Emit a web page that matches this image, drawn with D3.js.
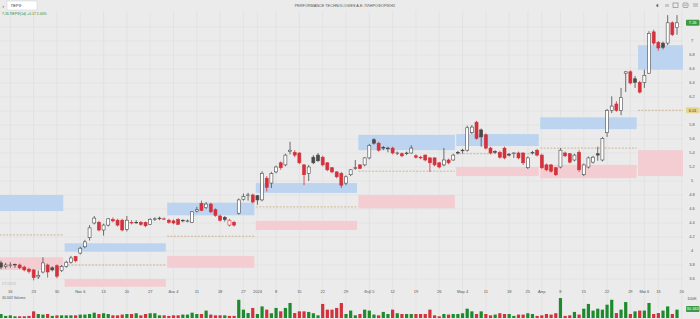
<!DOCTYPE html>
<html lang="el">
<head>
<meta charset="utf-8">
<title>ΠΕΡΦ</title>
<script src="https://d3js.org/d3.v7.min.js"></script>
<style>
  body { margin: 0; background: #ebebeb; overflow: hidden; }
  svg { display: block; font-family: "Liberation Sans", "DejaVu Sans", sans-serif; }
</style>
</head>
<body>
<div id="chart"></div>
<script>
// daily candles, Oct 2023 - May 2024
var opens = [3.83,3.78,3.80,3.81,3.80,3.77,3.74,3.73,3.63,3.70,3.80,3.76,3.79,3.72,3.78,3.84,3.92,3.97,4.06,4.19,
  4.40,4.41,4.30,4.37,4.45,4.44,4.44,4.31,4.40,4.41,4.41,4.41,4.38,4.45,4.46,4.46,4.44,4.43,4.45,4.44,
  4.43,4.41,4.57,4.68,4.62,4.67,4.59,4.50,4.48,4.37,4.41,4.54,4.74,4.80,4.80,4.79,4.73,5.04,4.97,5.13,
  5.26,5.23,5.42,5.41,5.40,5.23,5.11,5.34,5.37,5.34,5.26,5.19,5.13,5.11,4.97,5.09,5.19,5.23,5.23,5.33,
  5.59,5.54,5.48,5.47,5.47,5.40,5.39,5.39,5.40,5.36,5.34,5.37,5.33,5.33,5.26,5.23,5.30,5.30,5.41,5.44,
  5.44,5.69,5.84,5.73,5.66,5.47,5.42,5.41,5.47,5.38,5.40,5.40,5.40,5.19,5.40,5.44,5.37,5.23,5.23,5.19,
  5.20,5.40,5.39,5.30,5.41,5.09,5.20,5.27,5.39,5.30,5.69,6.01,6.10,6.01,6.54,6.56,6.46,6.41,6.41,6.54,
  7.13,6.98,6.97,6.97,7.26,7.19];
var highs = [3.86,3.83,3.84,3.82,3.82,3.79,3.76,3.74,3.72,3.91,3.82,3.78,3.81,3.80,3.86,3.93,3.93,4.06,4.16,4.37,
  4.50,4.43,4.39,4.47,4.48,4.46,4.46,4.50,4.44,4.44,4.43,4.42,4.47,4.48,4.49,4.48,4.46,4.45,4.47,4.45,
  4.45,4.57,4.63,4.72,4.70,4.69,4.61,4.52,4.50,4.46,4.43,4.75,4.82,4.83,4.82,4.80,5.14,5.07,5.13,5.22,
  5.28,5.39,5.56,5.44,5.41,5.24,5.23,5.37,5.40,5.36,5.27,5.20,5.14,5.13,5.08,5.17,5.30,5.24,5.34,5.53,
  5.61,5.56,5.50,5.49,5.49,5.42,5.41,5.42,5.51,5.38,5.36,5.38,5.34,5.34,5.27,5.47,5.32,5.39,5.43,5.46,
  5.79,5.80,5.86,5.75,5.68,5.49,5.44,5.43,5.49,5.40,5.41,5.42,5.41,5.35,5.43,5.46,5.39,5.25,5.24,5.20,
  5.47,5.42,5.40,5.39,5.44,5.25,5.35,5.36,5.49,5.63,6.03,6.21,6.14,6.33,6.57,6.58,6.50,6.43,6.59,7.14,
  7.16,7.00,6.99,7.37,7.28,7.37];
var lows = [3.74,3.75,3.76,3.76,3.74,3.71,3.68,3.58,3.60,3.68,3.62,3.71,3.61,3.70,3.76,3.82,3.84,3.95,4.04,4.15,
  4.38,4.28,4.22,4.35,4.41,4.35,4.28,4.28,4.38,4.39,4.36,4.34,4.37,4.43,4.44,4.44,4.39,4.38,4.38,4.41,
  4.41,4.40,4.55,4.57,4.60,4.54,4.49,4.42,4.42,4.35,4.35,4.52,4.72,4.72,4.68,4.66,4.71,4.85,4.90,5.11,
  5.16,5.21,5.38,5.34,5.24,4.94,5.00,5.24,5.27,5.21,5.14,5.11,5.04,4.90,4.94,5.07,5.16,5.17,5.21,5.31,
  5.52,5.42,5.44,5.41,5.38,5.37,5.34,5.37,5.39,5.32,5.31,5.28,5.13,5.21,5.18,5.21,5.24,5.29,5.38,5.39,
  5.42,5.67,5.59,5.49,5.45,5.38,5.39,5.32,5.31,5.35,5.33,5.31,5.23,5.17,5.38,5.35,5.17,5.14,5.12,5.07,
  5.18,5.34,5.25,5.28,5.13,5.07,5.18,5.25,5.29,5.28,5.63,5.97,5.99,5.94,6.27,6.38,6.33,6.25,6.33,6.53,
  6.94,6.86,6.88,6.94,7.07,7.09];
var closes = [3.77,3.80,3.80,3.80,3.76,3.73,3.71,3.62,3.65,3.83,3.70,3.73,3.64,3.78,3.84,3.90,3.86,4.04,4.13,4.33,
  4.47,4.30,4.37,4.46,4.43,4.37,4.30,4.44,4.41,4.41,4.38,4.36,4.45,4.46,4.47,4.46,4.41,4.40,4.38,4.43,
  4.43,4.56,4.59,4.58,4.67,4.56,4.51,4.44,4.45,4.44,4.37,4.73,4.78,4.80,4.70,4.73,5.11,4.91,5.11,5.20,
  5.19,5.37,5.44,5.37,5.26,5.09,5.20,5.26,5.29,5.23,5.16,5.13,5.06,4.94,5.06,5.16,5.19,5.18,5.33,5.51,
  5.54,5.44,5.47,5.47,5.40,5.40,5.36,5.40,5.47,5.34,5.33,5.30,5.26,5.23,5.20,5.30,5.26,5.37,5.40,5.44,
  5.76,5.77,5.61,5.63,5.47,5.40,5.41,5.34,5.33,5.37,5.40,5.33,5.26,5.33,5.41,5.37,5.19,5.16,5.14,5.09,
  5.44,5.36,5.27,5.37,5.16,5.23,5.33,5.34,5.37,5.61,6.01,6.07,6.01,6.19,6.56,6.40,6.41,6.27,6.51,7.11,
  6.97,6.90,6.91,7.26,7.09,7.26];
// volume in thousands of shares
var volumes = [21,11,14,9,9,9,11,35,21,18,21,11,14,14,14,14,14,18,18,21,
  28,21,25,21,14,14,18,21,21,25,14,21,25,25,14,14,11,14,14,18,
  18,28,21,21,39,18,14,14,14,11,11,96,44,26,53,21,61,44,25,53,
  35,53,79,26,35,35,32,25,14,74,44,44,53,79,21,39,14,21,44,39,
  18,14,32,21,44,25,21,21,21,21,21,21,44,14,9,21,18,21,21,25,
  49,35,21,35,21,14,18,25,21,21,11,18,18,25,21,11,14,21,18,25,
  105,11,14,32,18,49,74,39,49,44,70,96,26,44,84,21,35,39,39,79,
  21,26,39,61,21,44];

// x axis labels (candle index, text)
var tickIdx = [2,7,12,17,22,27,32,37,42,47,52,55,59,64,69,74,79,84,89,94,99,104,109,113,116,120,125,130,135,138,141,146];
var tickText = ["16","23","30","Νοε 6","13","20","27","Δεκ 4","11","18","27","2024","8","15","22","29",
  "Φεβ 5","12","19","26","Μαρ 4","11","18","25","Απρ","8","15","22","29","Μαϊ 6","13","20"];

// monthly pivot zones
var zoneStart = [0,14,36,55,77,98,116,137];
var zoneEnd   = [13,35,54,76,97,115,136,145];
var r2 = [4.80,4.11,4.69,4.97,5.66,5.67,5.91,6.94];
var r1 = [4.57,3.99,4.51,4.83,5.44,5.50,5.74,6.59];
var pivot = [4.23,3.80,4.21,4.63,5.14,5.39,5.47,6.01];
var s1 = [3.91,3.60,3.93,4.43,4.80,5.20,5.23,5.44];
var s2 = [3.73,3.49,3.76,4.30,4.61,5.07,5.04,5.07];

var width = 700, height = 319;
var plotRight = 683;

var svg = d3.select("#chart").append("svg")
    .attr("width", width)
    .attr("height", height);

svg.append("rect").attr("width", width).attr("height", height).attr("fill", "#ebebeb");

var n = closes.length;
var x = d3.scaleLinear().domain([0, n - 1]).range([1, 677]);
var step = x(1) - x(0);
var y = d3.scaleLinear().domain([3.6, 7.2]).range([279, 27]);
var yVol = d3.scaleLinear().domain([0, 100]).range([318, 299]);

var last = closes[n - 1], prev = closes[n - 2];
var lastPivot = pivot[pivot.length - 1];

// grid
var grid = svg.append("g").attr("stroke", "#dedede").attr("stroke-width", 0.6);
grid.selectAll("line.v").data(tickIdx).enter().append("line")
    .attr("x1", function(d) { return x(d); }).attr("x2", function(d) { return x(d); })
    .attr("y1", 11).attr("y2", 319);
grid.selectAll("line.h").data(y.ticks(20)).enter().append("line")
    .attr("x1", 0).attr("x2", plotRight)
    .attr("y1", function(d) { return y(d); }).attr("y2", function(d) { return y(d); });

// zones
var zones = d3.range(zoneStart.length);
function zx0(i) { return x(zoneStart[i]) - step / 2 + 0.7; }
function zx1(i) { return i === zones.length - 1 ? plotRight : x(zoneEnd[i]) + step / 2 - 0.7; }
var zg = svg.append("g");
zg.selectAll("rect.r").data(zones).enter().append("rect")
    .attr("x", zx0).attr("width", function(i) { return zx1(i) - zx0(i); })
    .attr("y", function(i) { return y(r2[i]); })
    .attr("height", function(i) { return y(r1[i]) - y(r2[i]); })
    .attr("fill", "#bcd4ef");
zg.selectAll("rect.s").data(zones).enter().append("rect")
    .attr("x", zx0).attr("width", function(i) { return zx1(i) - zx0(i); })
    .attr("y", function(i) { return y(s1[i]); })
    .attr("height", function(i) { return y(s2[i]) - y(s1[i]); })
    .attr("fill", "#f3cdd1");
zg.selectAll("line").data(zones).enter().append("line")
    .attr("x1", zx0).attr("x2", zx1)
    .attr("y1", function(i) { return y(pivot[i]); })
    .attr("y2", function(i) { return y(pivot[i]); })
    .attr("stroke", "#c4a173").attr("stroke-width", 0.7)
    .attr("stroke-dasharray", "2,1.4");

// candles
var red = "#d3313b", dark = "#4a4a4a", green = "#1f8a2d";
function candleColor(i) { return i > 0 && closes[i] < closes[i - 1] ? red : dark; }
var idx = d3.range(n);
var cg = svg.append("g");
cg.selectAll("line").data(idx).enter().append("line")
    .attr("x1", function(i) { return x(i); }).attr("x2", function(i) { return x(i); })
    .attr("y1", function(i) { return y(highs[i]); })
    .attr("y2", function(i) { return y(lows[i]); })
    .attr("stroke", candleColor).attr("stroke-width", 0.8);
cg.selectAll("rect").data(idx).enter().append("rect")
    .attr("x", function(i) { return x(i) - 1.5; })
    .attr("width", 3)
    .attr("y", function(i) { return y(Math.max(opens[i], closes[i])); })
    .attr("height", function(i) { return Math.max(0.6, Math.abs(y(opens[i]) - y(closes[i]))); })
    .attr("fill", function(i) { return closes[i] < opens[i] ? candleColor(i) : "#ffffff"; })
    .attr("stroke", candleColor).attr("stroke-width", 0.6);

// volume
svg.append("g").selectAll("rect").data(idx).enter().append("rect")
    .attr("x", function(i) { return x(i) - 1.6; })
    .attr("width", 3.2)
    .attr("y", function(i) { return yVol(volumes[i]); })
    .attr("height", function(i) { return yVol(0) - yVol(volumes[i]); })
    .attr("fill", function(i) { return i > 0 && closes[i] < closes[i - 1] ? red : green; });

// x axis labels
var xt = svg.append("g").attr("font-size", 4).attr("fill", "#555").attr("text-anchor", "middle");
xt.selectAll("text").data(tickIdx).enter().append("text")
    .attr("x", function(d) { return x(d); })
    .attr("y", 292.5)
    .text(function(d, k) { return tickText[k]; });

// right price axis (labels hidden where a value tag sits)
var tagYs = [y(last), y(lastPivot)];
var shown = y.ticks(20).filter(function(d) {
  return tagYs.every(function(t) { return Math.abs(y(d) - t) > 5; });
});
var yt = svg.append("g").attr("font-size", 4).attr("fill", "#555").attr("text-anchor", "middle");
yt.selectAll("text").data(shown).enter().append("text")
    .attr("x", 692)
    .attr("y", function(d) { return y(d) + 1.4; })
    .text(function(d) { return d3.format("~g")(d); });
yt.append("text").attr("x", 692).attr("y", yVol(100) + 1.4).text("100K");

// value tags on the axis
function tag(yy, txt, bg, fg) {
  svg.append("rect").attr("x", 686).attr("y", yy - 3).attr("width", 13.5).attr("height", 6)
      .attr("rx", 1).attr("fill", bg);
  svg.append("text").attr("x", 692.7).attr("y", yy + 1.4).attr("font-size", 4)
      .attr("text-anchor", "middle").attr("fill", fg).text(txt);
}
tag(y(last), d3.format(".2f")(last), "#3a9b45", "#ffffff");
tag(y(lastPivot), d3.format(".2f")(lastPivot), "#e6d58c", "#5a4a10");
tag(309, "30.343", "#3a9b45", "#ffffff");

// top bar
svg.append("rect").attr("x", 7).attr("y", 1).attr("width", 30).attr("height", 9)
    .attr("fill", "#ffffff").attr("stroke", "#d0d0d0").attr("stroke-width", 0.5);
svg.append("text").attr("x", 2.5).attr("y", 7.5).attr("font-size", 5).attr("fill", "#444").text("‹");
svg.append("text").attr("x", 11).attr("y", 7).attr("font-size", 3.6).attr("fill", "#333").text("ΠΕΡΦ");
svg.append("text").attr("x", 345).attr("y", 7).attr("font-size", 3.8).attr("fill", "#555")
    .attr("text-anchor", "middle").text("PERFORMANCE TECHNOLOGIES A.E. ΠΛΗΡΟΦΟΡΙΚΗΣ");
var icons = svg.append("g").attr("fill", "none").attr("stroke", "#777").attr("stroke-width", 0.6);
icons.append("path").attr("d", "M658,4 L656,5.5 L658,7 Z").attr("fill", "#666");
icons.append("path").attr("d", "M666,4 L666,7 M668,4 L668,7");
icons.append("rect").attr("x", 673).attr("y", 3).attr("width", 5).attr("height", 4.5);
icons.append("rect").attr("x", 683).attr("y", 3).attr("width", 5).attr("height", 4.5).attr("rx", 1);
icons.append("path").attr("d", "M684,5.2 L687,5.2 M693,4 L698,4 M693,6 L698,6");

// legend
svg.append("text").attr("x", 2).attr("y", 14.5).attr("font-size", 3.5).attr("fill", "#2e8b3a")
    .text(d3.format(".2f")(last) + " ΠΕΡΦ(1d) +" + d3.format(".2f")(last - prev) + " " +
          d3.format(".2%")((last - prev) / prev));
svg.append("text").attr("x", 2).attr("y", 284.5).attr("font-size", 3.5).attr("fill", "#b5b5b5")
    .text("ΣΤΟΧΟΣ");
svg.append("text").attr("x", 2).attr("y", 298.5).attr("font-size", 3.5).attr("fill", "#555")
    .text("30.343 Volume");
</script>
</body>
</html>
